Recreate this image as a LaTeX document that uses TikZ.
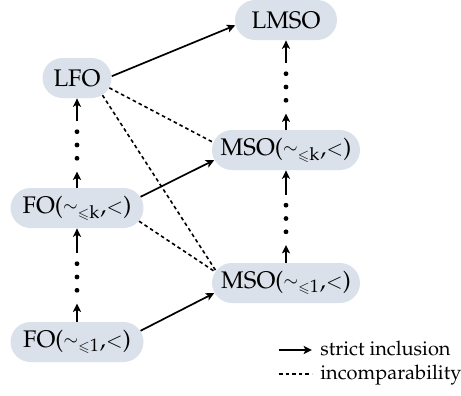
\documentclass[tikz,border=0pt]{standalone}
\usepackage[T1]{fontenc}
\usepackage{mathpazo}
\usepackage{amssymb}
\usepackage{graphicx}
\usetikzlibrary{arrows.meta,calc,shapes.misc}

\definecolor{boxfill}{RGB}{219,225,234}

% compact "sim" relation with a small "<= n" index
\newcommand\logicsim[1]{\raisebox{0.8pt}{\scalebox{0.75}{$\sim$}}%
  $_{\scriptscriptstyle\leqslant\scriptstyle\mathrm{#1}}$}
\newcommand\logicless{\scalebox{0.85}{$<$}}

\tikzset{
  logic/.style={rounded rectangle, fill=boxfill, inner sep=0pt,
    minimum height=20pt, font=\large},
  incl/.style={line width=0.85pt, -{Stealth[length=4.2pt,width=4pt,inset=1pt]}},
  incomp/.style={line width=0.8pt, dash pattern=on 1.8pt off 1.5pt},
  legendtext/.style={inner xsep=4pt, inner ysep=0pt, font=\normalsize},
  gapdot/.style={fill=black}
}

\begin{document}
\begin{tikzpicture}[x=0.5pt, y=-0.5pt]
  \useasboundingbox (0,0) rectangle (461,396);

  % logics
  \node[logic, minimum width=51pt]   (LMSO)  at (286,20)  {LMSO};
  \node[logic, minimum width=34.5pt] (LFO)   at (77,78)   {LFO};
  \node[logic, minimum width=74pt]   (MSOk)  at (286,150) {MSO(\logicsim{k},\logicless)};
  \node[logic, minimum width=66.5pt] (FOk)   at (77,208)  {FO(\logicsim{k},\logicless)};
  \node[logic, minimum width=74pt]   (MSOone) at (286,283) {MSO(\logicsim{1},\logicless)};
  \node[logic, minimum width=66.5pt] (FOone) at (77,342)  {FO(\logicsim{1},\logicless)};

  % vertical chains: arrow, three dots, arrow
  \foreach \lo/\hi in {FOone/FOk, FOk/LFO, MSOone/MSOk, MSOk/LMSO} {
    \coordinate (gap-\lo) at ($(\lo.north)!0.5!(\hi.south)+(0,2)$);
    \coordinate (low-\lo) at ($(gap-\lo)+(0,26.5)$);
    \coordinate (high-\lo) at ($(gap-\lo)+(0,-24)$);
    \draw[incl] (\lo.north) -- (low-\lo);
    \draw[incl] (high-\lo) -- (\hi.south);
    \foreach \d in {-13.3,0,13.3}
      \fill[gapdot] ($(gap-\lo)+(0,\d)$) circle (1.2pt);
  }

  % strict inclusions
  \draw[incl] (LFO.3) -- (LMSO.186);
  \draw[incl] (FOk.10) -- (MSOk.188);
  \draw[incl] (FOone.10) -- (MSOone.188);

  % incomparabilities
  \draw[incomp] (LFO.-17) -- (MSOk.174);
  \draw[incomp] (LFO.-34) -- (MSOone.170);
  \draw[incomp] (FOk.-12) -- (MSOone.171);

  % legend
  \node[legendtext, anchor=base west] (lgincl) at (312,355.5) {strict inclusion};
  \node[legendtext, anchor=base west] (lgincomp) at (312,379.5) {incomparability};
  \coordinate (lgincl-start) at (279,350);
  \coordinate (lgincomp-start) at (279,374);
  \draw[incl] (lgincl-start) -- (lgincl-start -| lgincl.west);
  \draw[incomp] (lgincomp-start) -- (lgincomp-start -| lgincomp.west);
\end{tikzpicture}
\end{document}
